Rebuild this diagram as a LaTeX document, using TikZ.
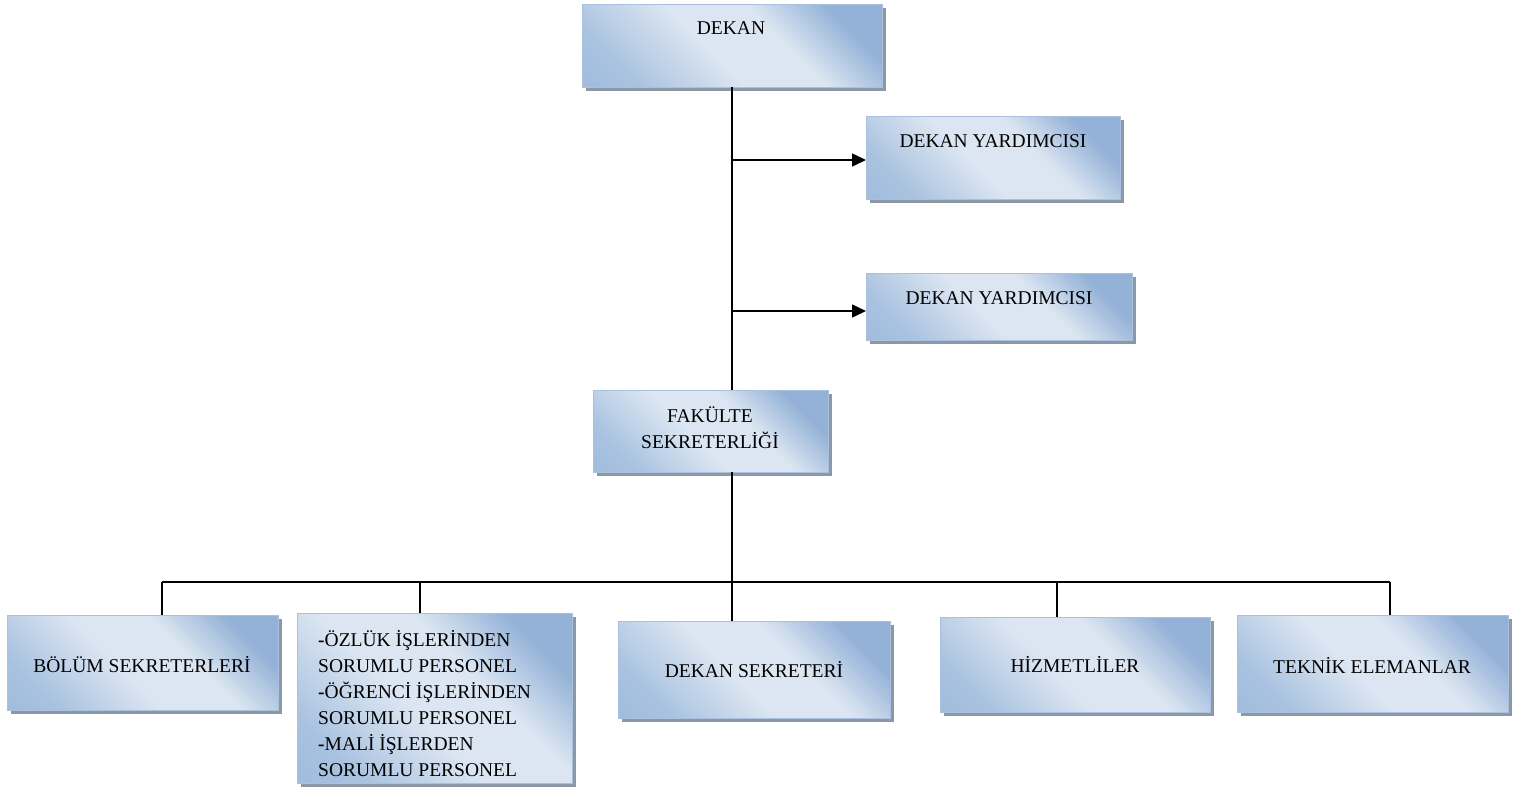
\documentclass[tikz,border=0pt]{standalone}
\usepackage{fontspec}
\setmainfont{Liberation Serif}
\usetikzlibrary{shadows,arrows.meta}
\definecolor{bdark}{HTML}{94B2D7}
\definecolor{bmid}{HTML}{A9C2E0}
\definecolor{blight}{HTML}{DCE6F2}
\definecolor{bline}{HTML}{A9C1DF}
\definecolor{shad}{HTML}{8C98A5}
\pgfdeclarehorizontalshading{boxgrad}{100bp}{color(0bp)=(bdark); color(25bp)=(bmid); color(45bp)=(blight); color(60bp)=(blight); color(75bp)=(bdark); color(100bp)=(bdark)}
\begin{document}
\begin{tikzpicture}[x=1pt,y=-1pt,
  orgbox/.style={draw=bline, line width=1pt, shading=boxgrad, shading angle=45,
    drop shadow={shadow xshift=3.5pt, shadow yshift=-3.5pt, opacity=1, fill=shad}},
  lbl/.style={font=\fontsize{19.5}{26}\selectfont, inner sep=0pt},
  conn/.style={line width=1.6pt},
  arr/.style={line width=1.6pt, -{Triangle[length=14pt,width=13pt]}}]
\useasboundingbox (0,0) rectangle (1528,796);
% boxes
\path[orgbox] (582,4) rectangle (882,87) node[pos=.5, inner sep=0] (dekan) {};
\path[orgbox] (866,116) rectangle (1120,199) node[pos=.5, inner sep=0] (dy1c) {};
\path[orgbox] (866,273) rectangle (1132,340) node[pos=.5, inner sep=0] (dy2c) {};
\path[orgbox] (593,390) rectangle (828,472) node[pos=.5, inner sep=0] (fakc) {};
\path[orgbox] (7,615) rectangle (278,710) node[pos=.5, inner sep=0] (bolc) {};
\path[orgbox] (297,613) rectangle (572,783) node[pos=.5, inner sep=0] (ozc) {};
\path[orgbox] (618,621) rectangle (890,718) node[pos=.5, inner sep=0] (dsc) {};
\path[orgbox] (940,617) rectangle (1210,712) node[pos=.5, inner sep=0] (hzc) {};
\path[orgbox] (1237,615) rectangle (1508,712) node[pos=.5, inner sep=0] (tkc) {};
% anchor coordinates
\coordinate (dekanS) at (732,87);
\coordinate (fakN) at (732,390);
\coordinate (fakS) at (732,472);
\coordinate (a1) at (732,160);
\coordinate (dy1W) at (866,160);
\coordinate (a2) at (732,311);
\coordinate (dy2W) at (866,311);
\coordinate (bL) at (162,582);
\coordinate (bR) at (1390,582);
\coordinate (bolN) at (162,615);
\coordinate (ozN) at (420,613);
\coordinate (dsN) at (732,621);
\coordinate (hzN) at (1057,617);
\coordinate (tkN) at (1390,615);
% labels
\node[lbl] (t1) at (731,28) {DEKAN};
\node[lbl] (t2) at (993,141) {DEKAN YARDIMCISI};
\node[lbl] (t3) at (999,298) {DEKAN YARDIMCISI};
\node[lbl, align=center] (t4) at (710,428) {FAKÜLTE\\SEKRETERLİĞİ};
\node[lbl] (t5) at (142,665) {BÖLÜM SEKRETERLERİ};
\node[lbl, align=left, anchor=north west] (t6) at (318,630) {\textbf{-}ÖZLÜK İŞLERİNDEN\\SORUMLU PERSONEL\\\textbf{-}ÖĞRENCİ İŞLERİNDEN\\SORUMLU PERSONEL\\\textbf{-}MALİ İŞLERDEN\\SORUMLU PERSONEL};
\node[lbl] (t7) at (754,670) {DEKAN SEKRETERİ};
\node[lbl] (t8) at (1075,664) {HİZMETLİLER};
\node[lbl] (t9) at (1372,665) {TEKNİK ELEMANLAR};
% connectors
\draw[conn] (dekanS) -- (fakN);
\draw[arr] (a1) -- (dy1W);
\draw[arr] (a2) -- (dy2W);
\draw[conn] (fakS) -- (dsN);
\draw[conn] (bL) -- (bR);
\draw[conn] (bL) -- (bolN);
\draw[conn] (ozN |- bL) -- (ozN);
\draw[conn] (hzN |- bL) -- (hzN);
\draw[conn] (bR) -- (tkN);
\end{tikzpicture}
\end{document}
